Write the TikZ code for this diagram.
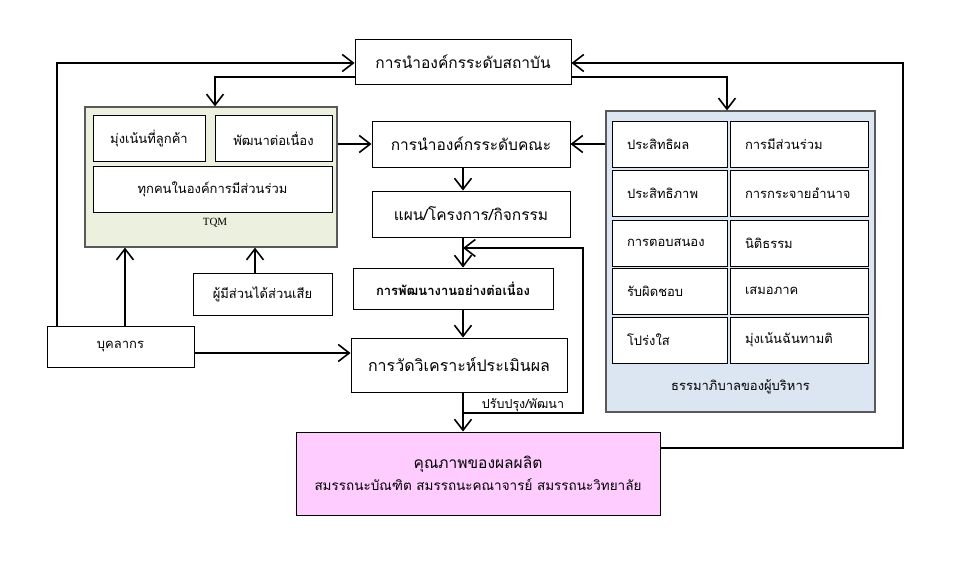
\documentclass[tikz,border=0pt]{standalone}
\usepackage{fontspec}
\setmainfont{Liberation Serif}
\newfontfamily\thaifont[Script=Thai]{Loma}
\usetikzlibrary{arrows.meta}

\begin{document}
\begin{tikzpicture}[x=1pt,y=1pt,
  box/.style={draw=black,line width=0.9pt,fill=white,inner sep=0pt,align=center,
    font=\thaifont\fontsize{15.5}{18}\selectfont},
  cell/.style={box,minimum height=46,font=\thaifont\fontsize{13}{16}\selectfont},
  gcell/.style={cell,text width=#1,inner xsep=15,align=left},
  frame/.style={draw=frameColor,line width=1.2pt,inner sep=0pt},
  flow/.style={draw=black,line width=1.6pt,-{Straight Barb[length=11pt,width=17pt,line width=1.6pt]}},
  link/.style={draw=black,line width=1.6pt}]
\definecolor{tqmColor}{RGB}{235,241,222}
\definecolor{govColor}{RGB}{220,230,242}
\definecolor{prodColor}{RGB}{255,204,255}
\definecolor{frameColor}{RGB}{89,89,89}
\path[use as bounding box,fill=white] (0,0) rectangle (979,571);

\node[frame,fill=tqmColor,minimum width=252,minimum height=140] (tqm) at (211,394) {};
\node[cell,minimum width=112] (cust) at (149,432.5) {มุ่งเน้นที่ลูกค้า};
\node[cell,minimum width=117] (improve) at (273.5,432.5) {พัฒนาต่อเนื่อง};
\node[cell,minimum width=239] (allin) at (212.5,381.5) {ทุกคนในองค์การมีส่วนร่วม};
\node[font=\fontsize{11}{13}\selectfont] (tqmlabel) at (215,348) {TQM};

\node[box,minimum width=216,minimum height=45] (inst) at (463,509.5) {การนำองค์กรระดับสถาบัน};
\node[box,minimum width=198,minimum height=46] (faculty) at (471,427) {การนำองค์กรระดับคณะ};
\node[box,minimum width=198,minimum height=46] (plan) at (471,357) {แผน/โครงการ/กิจกรรม};
\node[box,minimum width=200,minimum height=41,font=\thaifont\bfseries\fontsize{13}{16}\selectfont] (dev) at (453,282.5) {การพัฒนางานอย่างต่อเนื่อง};
\node[box,minimum width=216,minimum height=54,font=\thaifont\fontsize{16}{19}\selectfont] (meas) at (459,206) {การวัดวิเคราะห์ประเมินผล};
\node[box,fill=prodColor,minimum width=364,minimum height=83] (product) at (478,97.5)
  {คุณภาพของผลผลิต\\[4pt]\fontsize{13.5}{16}\selectfont สมรรถนะบัณฑิต สมรรถนะคณาจารย์ สมรรถนะวิทยาลัย};
\node[box,minimum width=147,minimum height=41,font=\thaifont\fontsize{13}{16}\selectfont] (staff) at (120.5,224.5) {บุคลากร};
\node[box,minimum width=139,minimum height=42,font=\thaifont\fontsize{13}{16}\selectfont] (stake) at (262.5,277) {ผู้มีส่วนได้ส่วนเสีย};
\node[font=\thaifont\fontsize{12.5}{15}\selectfont] (fblabel) at (523,166) {ปรับปรุง/พัฒนา};

\node[frame,fill=govColor,minimum width=269,minimum height=301] (gov) at (740.5,309.5) {};
\node[gcell=85] (g11) at (669.5,427) {ประสิทธิผล};
\node[gcell=108] (g12) at (799,427) {การมีส่วนร่วม};
\node[gcell=85] (g21) at (669.5,378) {ประสิทธิภาพ};
\node[gcell=108] (g22) at (799,378) {การกระจายอำนาจ};
\node[gcell=85] (g31) at (669.5,328) {การตอบสนอง};
\node[gcell=108] (g32) at (799,328) {นิติธรรม};
\node[gcell=85] (g41) at (669.5,280) {รับผิดชอบ};
\node[gcell=108] (g42) at (799,280) {เสมอภาค};
\node[gcell=85] (g51) at (669.5,231) {โปร่งใส};
\node[gcell=108] (g52) at (799,231) {มุ่งเน้นฉันทามติ};
\node[font=\thaifont\fontsize{13}{16}\selectfont] (govlabel) at (740.5,184) {ธรรมาภิบาลของผู้บริหาร};

\coordinate (lft) at (57,508);
\coordinate (rgt) at (903,508);
\coordinate (rback) at (903,123);
\coordinate (ltop) at (215,494);
\coordinate (rtop) at (727,494);
\coordinate (spine) at (463,0);
\coordinate (fbr) at (583,158);
\coordinate (fbt) at (583,323);
\coordinate (sm) at (0,218);
\coordinate (sup) at (125,0);
\coordinate (kup) at (255,0);

\draw[flow] (staff.north -| lft) -- (lft) -- (inst.west |- lft);
\draw[flow] (product.east |- rback) -- (rback) -- (rgt) -- (inst.east |- rgt);
\draw[flow] (inst.west |- ltop) -- (ltop) -- (tqm.north -| ltop);
\draw[flow] (inst.east |- rtop) -- (rtop) -- (gov.north -| rtop);
\draw[flow] (tqm.east |- faculty) -- (faculty.west);
\draw[flow] (gov.west |- faculty) -- (faculty.east);
\draw[flow] (faculty.south -| spine) -- (plan.north -| spine);
\draw[flow] (plan.south -| spine) -- (dev.north -| spine);
\draw[flow] (dev.south -| spine) -- (meas.north -| spine);
\draw[flow] (meas.south -| spine) -- (product.north -| spine);
\draw[flow] (spine |- fbr) -- (fbr) -- (fbt) -- (spine |- fbt);
\draw[flow] (staff.east |- sm) -- (meas.west |- sm);
\draw[flow] (staff.north -| sup) -- (tqm.south -| sup);
\draw[flow] (stake.north -| kup) -- (tqm.south -| kup);
\end{tikzpicture}
\end{document}
